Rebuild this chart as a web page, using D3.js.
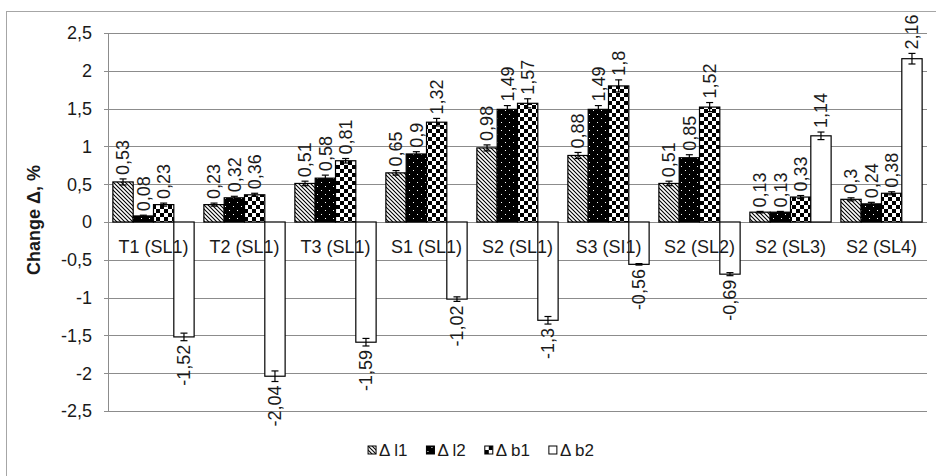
<!DOCTYPE html>
<html>
<head>
<meta charset="utf-8">
<script src="https://cdn.jsdelivr.net/npm/d3@7"></script>
<style>
  body { margin: 0; background: #fff; }
  svg text { font-family: "Liberation Sans", Arial, sans-serif; }
</style>
</head>
<body>
<div id="chart"></div>
<script>
const categories = ["T1 (SL1)", "T2 (SL1)", "T3 (SL1)", "S1 (SL1)", "S2 (SL1)", "S3 (SI1)", "S2 (SL2)", "S2 (SL3)", "S2 (SL4)"];
const seriesNames = ["Δ l1", "Δ l2", "Δ b1", "Δ b2"];
const dl1 = [0.53, 0.23, 0.51, 0.65, 0.98, 0.88, 0.51, 0.13, 0.3];
const dl2 = [0.08, 0.32, 0.58, 0.9, 1.49, 1.49, 0.85, 0.13, 0.24];
const db1 = [0.23, 0.36, 0.81, 1.32, 1.57, 1.8, 1.52, 0.33, 0.38];
const db2 = [-1.52, -2.04, -1.59, -1.02, -1.3, -0.56, -0.69, 1.14, 2.16];
// error bar half-lengths
const el1 = [0.04, 0.02, 0.03, 0.03, 0.04, 0.04, 0.03, 0.01, 0.02];
const el2 = [0.01, 0.02, 0.04, 0.03, 0.05, 0.05, 0.04, 0.01, 0.02];
const eb1 = [0.02, 0.02, 0.03, 0.05, 0.06, 0.08, 0.06, 0.02, 0.02];
const eb2 = [0.05, 0.07, 0.05, 0.03, 0.05, 0.01, 0.02, 0.05, 0.07];
const yTicks = [2.5, 2, 1.5, 1, 0.5, 0, -0.5, -1, -1.5, -2, -2.5];

const values = [dl1, dl2, db1, db2];
const errors = [el1, el2, eb1, eb2];
const fills = ["url(#hatch)", "url(#dots)", "url(#checker)", "#fff"];

const W = 936, H = 476;
const margin = {top: 33, right: 9, bottom: 65, left: 108};
const width = W - margin.left - margin.right,
      height = H - margin.top - margin.bottom;

const svgRoot = d3.select("#chart").append("svg")
  .attr("width", W)
  .attr("height", H);

// patterns
const defs = svgRoot.append("defs");
const hatch = defs.append("pattern").attr("id", "hatch")
  .attr("patternUnits", "userSpaceOnUse").attr("width", 4).attr("height", 4);
hatch.append("rect").attr("width", 4).attr("height", 4).attr("fill", "#fff");
hatch.append("path").attr("d", "M-1,-1L5,5M-1,3L1,5M3,-1L5,1")
  .attr("stroke", "#000").attr("stroke-width", 1.1);

const dots = defs.append("pattern").attr("id", "dots")
  .attr("patternUnits", "userSpaceOnUse").attr("width", 8).attr("height", 8);
dots.append("rect").attr("width", 8).attr("height", 8).attr("fill", "#000");
dots.append("rect").attr("x", 1).attr("y", 1).attr("width", 1).attr("height", 1).attr("fill", "#fff");
dots.append("rect").attr("x", 5).attr("y", 5).attr("width", 1).attr("height", 1).attr("fill", "#fff");

const checker = defs.append("pattern").attr("id", "checker")
  .attr("patternUnits", "userSpaceOnUse").attr("width", 8).attr("height", 8);
checker.append("rect").attr("width", 8).attr("height", 8).attr("fill", "#fff");
checker.append("rect").attr("width", 4).attr("height", 4).attr("fill", "#000");
checker.append("rect").attr("x", 4).attr("y", 4).attr("width", 4).attr("height", 4).attr("fill", "#000");

// outer frame
svgRoot.append("rect")
  .attr("x", 6.5).attr("y", 11.5)
  .attr("width", 940).attr("height", 480)
  .attr("fill", "none").attr("stroke", "#a6a6a6");

const svg = svgRoot.append("g")
  .attr("transform", "translate(" + margin.left + "," + margin.top + ")");

const x0 = d3.scaleBand().domain(categories).range([0, width]).padding(0);
const x1 = d3.scaleBand().domain(seriesNames).range([0, x0.bandwidth()])
  .paddingInner(0).paddingOuter(0.24);
const y = d3.scaleLinear().domain([-2.5, 2.5]).range([height, 0]);

// gridlines
svg.append("g")
  .selectAll("line")
  .data(yTicks)
  .join("line")
    .attr("x1", -4).attr("x2", width)
    .attr("y1", d => Math.round(y(d)) + 0.5)
    .attr("y2", d => Math.round(y(d)) + 0.5)
    .attr("stroke", "#8c8c8c");

svg.append("line")
  .attr("x1", 0.5).attr("x2", 0.5)
  .attr("y1", y(2.5)).attr("y2", y(-2.5))
  .attr("stroke", "#8c8c8c");

// y tick labels
svg.append("g")
  .selectAll("text")
  .data(yTicks)
  .join("text")
    .attr("x", -16)
    .attr("y", d => y(d))
    .attr("dy", "0.35em")
    .attr("text-anchor", "end")
    .attr("font-size", 18)
    .attr("fill", "#1a1a1a")
    .text(d => String(d).replace(".", ","));

// y title
svg.append("text")
  .attr("transform", "translate(" + (-68) + "," + (y(0) - 2) + ") rotate(-90)")
  .attr("text-anchor", "middle")
  .attr("font-size", 18)
  .attr("font-weight", "bold")
  .attr("fill", "#1a1a1a")
  .text("Change Δ, %");

// bars
const rows = [];
seriesNames.forEach((s, si) => {
  categories.forEach((c, ci) => {
    rows.push({s: s, si: si, c: c, v: values[si][ci], e: errors[si][ci]});
  });
});

svg.append("g")
  .selectAll("rect")
  .data(rows)
  .join("rect")
    .attr("x", d => x0(d.c) + x1(d.s))
    .attr("y", d => y(Math.max(0, d.v)))
    .attr("width", x1.bandwidth())
    .attr("height", d => Math.abs(y(d.v) - y(0)))
    .attr("fill", d => fills[d.si])
    .attr("stroke", "#000")
    .attr("stroke-width", 1.2);

// category labels, drawn over the bars as in the original
svg.append("g")
  .selectAll("text")
  .data(categories)
  .join("text")
    .attr("x", d => x0(d) + x0.bandwidth() / 2)
    .attr("y", y(0) + 31)
    .attr("text-anchor", "middle")
    .attr("font-size", 18)
    .attr("fill", "#1a1a1a")
    .text(d => d);

// error bars
const eb = svg.append("g").attr("stroke", "#000").attr("stroke-width", 1.2);
rows.forEach(d => {
  const cx = x0(d.c) + x1(d.s) + x1.bandwidth() / 2;
  const ya = y(d.v + d.e), yb = y(d.v - d.e);
  eb.append("line").attr("x1", cx).attr("x2", cx).attr("y1", ya).attr("y2", yb);
  eb.append("line").attr("x1", cx - 3.5).attr("x2", cx + 3.5).attr("y1", ya).attr("y2", ya);
  eb.append("line").attr("x1", cx - 3.5).attr("x2", cx + 3.5).attr("y1", yb).attr("y2", yb);
});

// data labels
svg.append("g")
  .selectAll("text")
  .data(rows)
  .join("text")
    .attr("transform", d => {
      const cx = x0(d.c) + x1(d.s) + x1.bandwidth() / 2;
      const yy = d.v >= 0 ? y(d.v + d.e) - 4 : y(d.v - d.e) + 4;
      return "translate(" + cx + "," + yy + ") rotate(-90)";
    })
    .attr("dy", "0.35em")
    .attr("text-anchor", d => d.v >= 0 ? "start" : "end")
    .attr("font-size", 18)
    .attr("fill", "#1a1a1a")
    .text(d => String(d.v).replace(".", ","));

// legend
const legend = svgRoot.append("g");
let lx = 0;
const gap = 19;
seriesNames.forEach((s, i) => {
  const g = legend.append("g");
  g.append("rect")
    .attr("x", 0).attr("y", -4).attr("width", 8).attr("height", 8)
    .attr("fill", fills[i]).attr("stroke", "#000");
  const t = g.append("text")
    .attr("x", 11).attr("y", 0).attr("dy", "0.35em")
    .attr("font-size", 17).attr("fill", "#1a1a1a")
    .text(s);
  const w = 11 + t.node().getComputedTextLength();
  g.attr("transform", "translate(" + lx + ",0)");
  lx += w + gap;
});
const legendW = lx - gap;
legend.attr("transform", "translate(" + (481 - legendW / 2) + ",450)");
</script>
</body>
</html>
